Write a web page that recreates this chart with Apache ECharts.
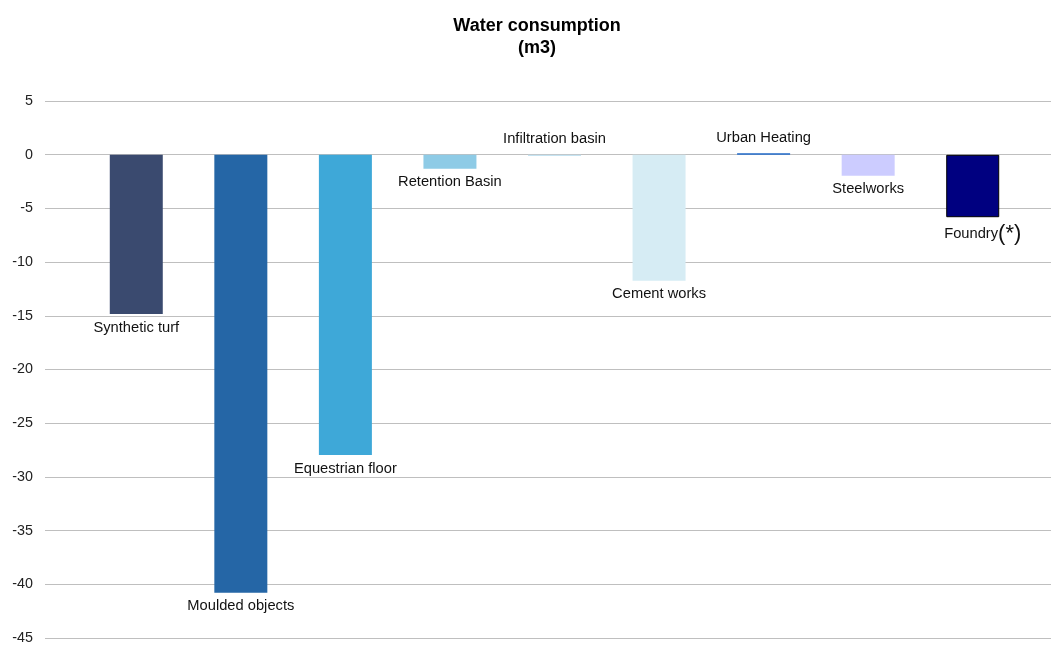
<!DOCTYPE html>
<html>
<head>
<meta charset="utf-8">
<script src="https://cdn.jsdelivr.net/npm/echarts@6/dist/echarts.min.js"></script>
<style>html,body{margin:0;padding:0;background:#fff}#c{width:1051px;height:645px}</style>
</head>
<body>
<div id="c"></div>
<script>
const categories = ['Synthetic turf','Moulded objects','Equestrian floor','Retention Basin','Infiltration basin','Cement works','Urban Heating','Steelworks','Foundry'];
const values = [-14.8, -40.7, -27.9, -1.3, -0.12, -11.7, 0.15, -1.95, -5.8];
const colors = ['#3a4a6f','#2566a6','#3ea8d8','#8ecbe6','#c5e3f1','#d6ecf4','#1f68c9','#ccccff','#000080'];
const labelPos = ['bottom','bottom','bottom','bottom','top','bottom','top','bottom','bottom'];
const yTicks = {min: -45, max: 5, interval: 5};
const titleText = 'Water consumption\n(m3)';
const footnote = '(*)';

const FONT = '"Liberation Sans", Arial, sans-serif';
const chart = echarts.init(document.getElementById('c'), null, {renderer: 'canvas'});

const data = values.map((v, i) => {
  const item = {
    value: v,
    itemStyle: {color: colors[i]},
    label: {position: labelPos[i], distance: labelPos[i] === 'top' ? 8 : 6}
  };
  if (categories[i] === 'Foundry') {
    item.itemStyle.borderColor = '#000';
    item.itemStyle.borderWidth = 1;
    item.label.formatter = '{n|{b}}{s|' + footnote + '}';
    item.label.offset = [10, 0];
  }
  return item;
});

chart.setOption({
  animation: false,
  backgroundColor: '#fff',
  title: {
    text: titleText,
    left: 532,
    top: 10,
    textAlign: 'center',
    textStyle: {fontFamily: FONT, fontSize: 18, fontWeight: 'bold', color: '#000', lineHeight: 22}
  },
  grid: [
    {left: 45, right: 0, top: 101, bottom: 6, containLabel: false},
    {left: 84, right: 26, top: 101, bottom: 6, containLabel: false}
  ],
  xAxis: [
    {type: 'category', gridIndex: 0, data: [''], show: false},
    {type: 'category', gridIndex: 1, data: categories, show: false}
  ],
  yAxis: [
    {
      type: 'value', gridIndex: 0, min: yTicks.min, max: yTicks.max, interval: yTicks.interval,
      axisLine: {show: false}, axisTick: {show: false},
      axisLabel: {fontFamily: FONT, fontSize: 14.3, color: '#222', margin: 12},
      splitLine: {lineStyle: {color: '#bfbfbf', width: 1}}
    },
    {
      type: 'value', gridIndex: 1, min: yTicks.min, max: yTicks.max, interval: yTicks.interval,
      show: false, splitLine: {show: false}
    }
  ],
  series: [{
    type: 'bar',
    xAxisIndex: 1,
    yAxisIndex: 1,
    barWidth: 53,
    data: data,
    label: {
      show: true,
      formatter: '{b}',
      fontFamily: FONT,
      fontSize: 14.7,
      color: '#111',
      rich: {
        n: {fontFamily: FONT, fontSize: 14.7, color: '#111'},
        s: {fontFamily: FONT, fontSize: 22, color: '#111'}
      }
    }
  }]
});
</script>
</body>
</html>
